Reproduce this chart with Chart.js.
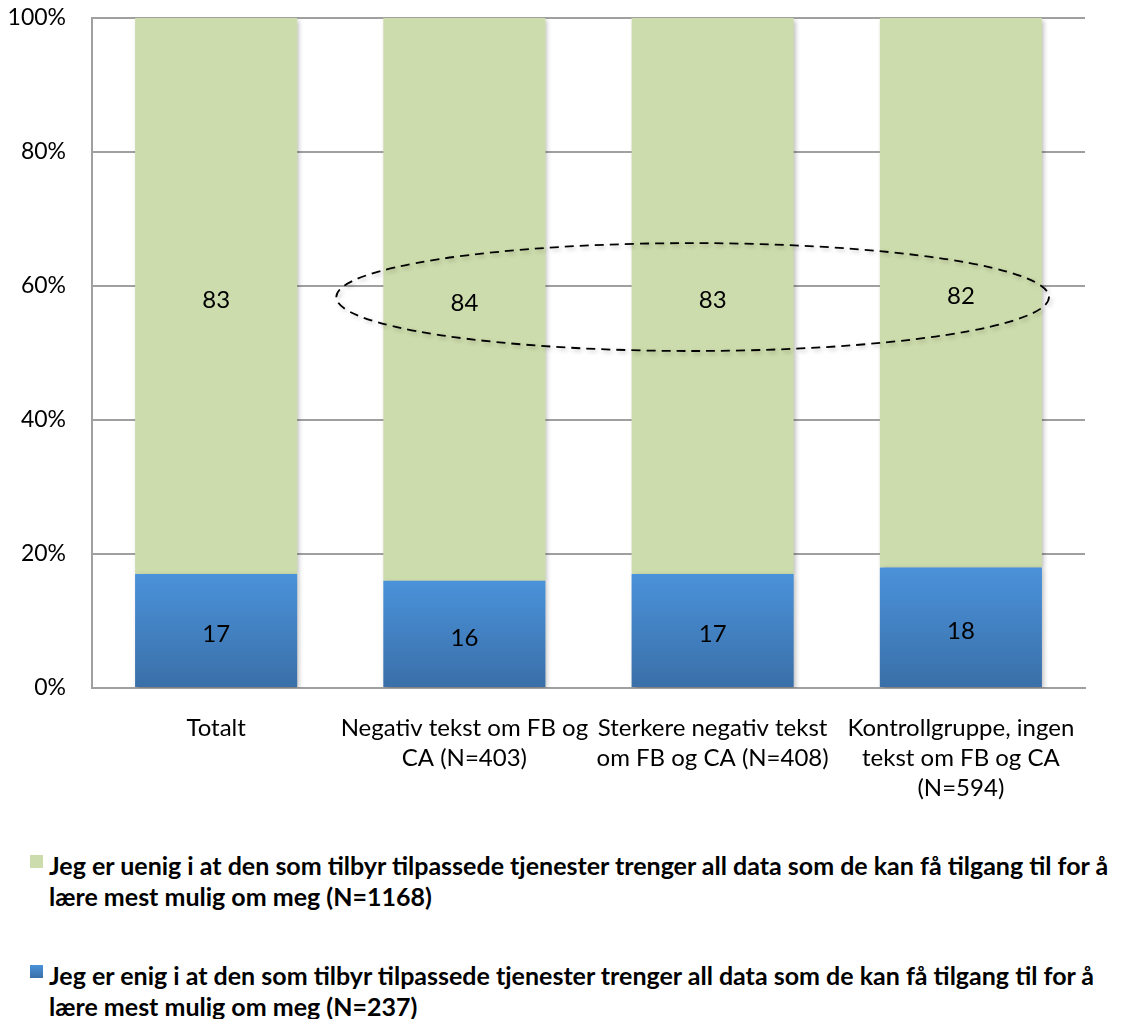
<!DOCTYPE html>
<html>
<head>
<meta charset="utf-8">
<script src="https://cdn.jsdelivr.net/npm/chart.js@4.4.1/dist/chart.umd.min.js"></script>
<style>
  html, body { margin: 0; padding: 0; background: #fff; }
  #wrap { position: relative; width: 1122px; height: 1019px; font-family: Lato, "Open Sans", sans-serif; }
  #box { position: absolute; left: 0; top: 0; width: 1122px; height: 820px; }
  .leg { position: absolute; left: 30px; font-weight: bold; font-size: 25px; line-height: 31px; color: #000; }
  .leg .sw { position: absolute; left: 0; top: 5px; width: 13px; height: 13px; }
  .leg .tx { margin-left: 19px; white-space: nowrap; }
</style>
</head>
<body>
<div id="wrap">
  <div id="box"><canvas id="chart"></canvas></div>
  <div class="leg" style="top:850px"><span class="sw" style="background:#cddcac"></span><div class="tx" id="leg0"></div></div>
  <div class="leg" style="top:960px"><span class="sw" style="background:linear-gradient(#4a92da,#3a6fa8)"></span><div class="tx" id="leg1"></div></div>
</div>
<script>
  // Kategorier og verdier (prosent)
  const categories = [
    ['Totalt'],
    ['Negativ tekst om FB og', 'CA (N=403)'],
    ['Sterkere negativ tekst', 'om FB og CA (N=408)'],
    ['Kontrollgruppe, ingen', 'tekst om FB og CA', '(N=594)']
  ];
  const enig = [17, 16, 17, 18];
  const uenig = [83, 84, 83, 82];
  const seriesNames = [
    'Jeg er enig i at den som tilbyr tilpassede tjenester trenger all data som de kan få tilgang til for å|lære mest mulig om meg (N=237)',
    'Jeg er uenig i at den som tilbyr tilpassede tjenester trenger all data som de kan få tilgang til for å|lære mest mulig om meg (N=1168)'
  ];
  const yTicks = [0, 20, 40, 60, 80, 100];

  document.getElementById('leg0').innerHTML = seriesNames[1].split('|').join('<br>');
  document.getElementById('leg1').innerHTML = seriesNames[0].split('|').join('<br>');

  const FONT = 'Lato, "Open Sans", sans-serif';

  function blueGradient(context) {
    const chart = context.chart;
    const { ctx, chartArea } = chart;
    if (!chartArea) return '#4a8ed4';
    const yScale = chart.scales.y;
    const top = yScale.getPixelForValue(context.raw);
    const base = yScale.getPixelForValue(0);
    const g = ctx.createLinearGradient(0, top, 0, base);
    g.addColorStop(0, '#4a92da');
    g.addColorStop(1, '#3a6fa8');
    return g;
  }

  // Skygge under søylene
  const shadowPlugin = {
    id: 'barShadow',
    beforeDatasetsDraw(chart) {
      const ctx = chart.ctx;
      ctx.save();
      ctx.shadowColor = 'rgba(0,0,0,0.28)';
      ctx.shadowBlur = 5;
      ctx.shadowOffsetX = 2;
      ctx.shadowOffsetY = 2;
    },
    afterDatasetsDraw(chart) {
      chart.ctx.restore();
    }
  };

  // Verdietiketter midt i hvert segment
  const labelPlugin = {
    id: 'segLabels',
    afterDatasetsDraw(chart) {
      const ctx = chart.ctx;
      ctx.save();
      ctx.font = '24px ' + FONT;
      ctx.fillStyle = '#000';
      ctx.textAlign = 'center';
      ctx.textBaseline = 'middle';
      chart.data.datasets.forEach((ds, i) => {
        chart.getDatasetMeta(i).data.forEach((bar, j) => {
          const p = bar.getProps(['x', 'y', 'base'], true);
          ctx.fillText(String(ds.data[j]), p.x, (p.y + p.base) / 2 + 4);
        });
      });
      ctx.restore();
    }
  };

  // Stiplet ellipse rundt de tre gruppene
  const ellipsePlugin = {
    id: 'ellipse',
    afterDraw(chart) {
      const x = chart.scales.x, y = chart.scales.y;
      const step = x.getPixelForValue(1) - x.getPixelForValue(0);
      const left = x.getPixelForValue(1) - 0.516 * step;
      const right = x.getPixelForValue(3) + 0.355 * step;
      const top = y.getPixelForValue(66.4);
      const bottom = y.getPixelForValue(50.3);
      const ctx = chart.ctx;
      ctx.save();
      ctx.shadowColor = 'rgba(0,0,0,0.25)';
      ctx.shadowBlur = 4;
      ctx.shadowOffsetX = 2;
      ctx.shadowOffsetY = 2;
      ctx.strokeStyle = '#000';
      ctx.lineWidth = 1.8;
      ctx.setLineDash([9, 6]);
      ctx.beginPath();
      ctx.ellipse((left + right) / 2, (top + bottom) / 2, (right - left) / 2, (bottom - top) / 2, 0, 0, Math.PI * 2);
      ctx.stroke();
      ctx.restore();
    }
  };

  new Chart(document.getElementById('chart'), {
    type: 'bar',
    data: {
      labels: categories,
      datasets: [
        { label: 'enig', data: enig, backgroundColor: blueGradient, borderWidth: 0,
          categoryPercentage: 1, barPercentage: 0.653 },
        { label: 'uenig', data: uenig, backgroundColor: '#cddcac', borderWidth: 0,
          categoryPercentage: 1, barPercentage: 0.653 }
      ]
    },
    options: {
      responsive: true,
      maintainAspectRatio: false,
      animation: false,
      layout: { padding: { top: 18, right: 37, left: 0, bottom: 0 } },
      scales: {
        x: {
          stacked: true,
          grid: { display: false },
          border: { display: true, color: '#a0a0a0', width: 2 },
          ticks: { color: '#000', font: { family: FONT, size: 24, lineHeight: 1.25 }, padding: 17, maxRotation: 0, autoSkip: false },
          afterFit(scale) { scale.height = 132; scale.paddingLeft = 0; scale.paddingRight = 0; }
        },
        y: {
          stacked: true,
          min: 0, max: 100,
          afterBuildTicks(scale) { scale.ticks = yTicks.map(v => ({ value: v })); },
          grid: { color: '#a0a0a0', lineWidth: 2, drawTicks: false },
          border: { display: true, color: '#a0a0a0', width: 2 },
          ticks: { color: '#000', font: { family: FONT, size: 23 }, padding: 26, callback: v => v + '%' },
          afterFit(scale) { scale.width = 92; scale.paddingTop = 0; scale.paddingBottom = 0; }
        }
      },
      plugins: {
        legend: { display: false },
        tooltip: { enabled: false }
      }
    },
    plugins: [shadowPlugin, labelPlugin, ellipsePlugin]
  });
</script>
</body>
</html>
